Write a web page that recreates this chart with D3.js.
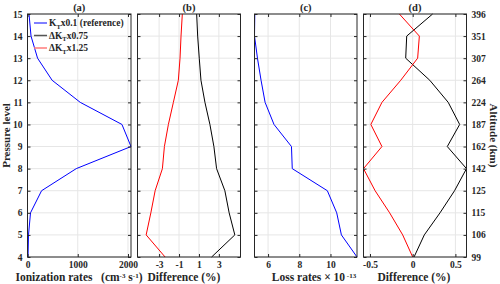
<!DOCTYPE html>
<html>
<head>
<meta charset="utf-8">
<style>
body { margin: 0; background: #fff; }
svg text { font-family: "Liberation Serif", serif; font-weight: bold; fill: #262626; }
.tick text { font-size: 9.5px; }
.tick line { stroke: #262626; }
.domain { display: none; }
.grid line { stroke: #e6e6e6; stroke-width: 1; }
.frame { fill: none; stroke: #262626; stroke-width: 1; }
.series { fill: none; stroke-width: 1; }
.xtitle { font-size: 11.5px; }
</style>
<script src="https://cdn.jsdelivr.net/npm/d3@7"></script>
</head>
<body>
<svg width="500" height="284"></svg>
<script>
// pressure levels and the matching altitude labels (km)
var levels = [4, 5, 6, 7, 8, 9, 10, 11, 12, 13, 14, 15];
var altitudes = [99, 106, 115, 125, 142, 162, 187, 224, 264, 307, 351, 396];

// (a) ionization rates, reference run
var ionRef = [10, 20, 60, 280, 970, 2060, 1880, 1050, 490, 200, 70, 30];
// (b) ionization difference (%)
var ionDiff075 = [2.27, 4.6, 4.03, 3.6, 2.77, 2.5, 2.1, 1.6, 1.2, 1.03, 0.87, 0.77];
var ionDiff125 = [-2.4, -4.3, -3.83, -3.4, -2.67, -2.47, -2.07, -1.57, -1.07, -0.9, -0.8, -0.67];
// (c) loss rates x 1e-13
var lossRef = [11.7, 10.7, 10.4, 9.8, 7.55, 7.5, 6.38, 5.81, 5.55, 5.32, 5.13, 5.15];
// (d) loss difference (%)
var lossDiff075 = [0.016, 0.136, 0.32, 0.49, 0.63, 0.405, 0.55, 0.416, 0.2, -0.082, -0.07, 0.233];
var lossDiff125 = [0, -0.117, -0.27, -0.44, -0.576, -0.36, -0.49, -0.36, -0.14, 0.058, 0.078, -0.156];

var svg = d3.select("svg");
var yTop = 14, yBottom = 257;

var y = d3.scaleLinear().domain([4, 15]).range([yBottom, yTop]);
var minusFmt = function(f) { return function(d) { return f(d).replace("\u2212", "-"); }; };

function panel(x0, x1, domain, ticks, fmt, title, series) {
  var x = d3.scaleLinear().domain(domain).range([x0, x1]);
  var g = svg.append("g");

  // grid
  var grid = g.append("g").attr("class", "grid");
  grid.selectAll(".gx").data(ticks).enter().append("line")
    .attr("x1", function(d) { return x(d); }).attr("x2", function(d) { return x(d); })
    .attr("y1", yTop).attr("y2", yBottom);
  grid.selectAll(".gy").data(levels).enter().append("line")
    .attr("x1", x0).attr("x2", x1)
    .attr("y1", function(d) { return y(d); }).attr("y2", function(d) { return y(d); });

  // series
  series.forEach(function(s) {
    var line = d3.line()
      .x(function(d) { return x(d); })
      .y(function(d, i) { return y(levels[i]); });
    g.append("path").attr("class", "series")
      .attr("d", line(s.values))
      .attr("stroke", s.color);
  });

  // ticks (inward, MATLAB style)
  g.append("g").attr("transform", "translate(0," + yBottom + ")")
    .call(d3.axisBottom(x).tickValues(ticks).tickSize(-3).tickPadding(4).tickFormat(fmt));
  g.append("g").attr("transform", "translate(0," + yTop + ")")
    .call(d3.axisTop(x).tickValues(ticks).tickSize(-3).tickFormat(""));
  g.append("g").attr("transform", "translate(" + x0 + ",0)")
    .call(d3.axisLeft(y).tickValues(levels).tickSize(-3).tickFormat(""));
  g.append("g").attr("transform", "translate(" + x1 + ",0)")
    .call(d3.axisRight(y).tickValues(levels).tickSize(-3).tickFormat(""));

  g.append("rect").attr("class", "frame")
    .attr("x", x0).attr("y", yTop).attr("width", x1 - x0).attr("height", yBottom - yTop);

  g.append("text").attr("x", (x0 + x1) / 2).attr("y", 11)
    .attr("text-anchor", "middle").style("font-size", "10.5px").text(title);
  return g;
}

panel(27.5, 131, [0, 2060], [0, 1000, 2000], d3.format("d"), "(a)",
  [{ values: ionRef, color: "#0000ff" }]);
panel(137.5, 240.5, [-5.17, 5.17], [-3, -1, 1, 3], minusFmt(d3.format("d")), "(b)",
  [{ values: ionDiff075, color: "#000000" }, { values: ionDiff125, color: "#ff0000" }]);
panel(254.5, 357, [5.13, 11.7], [6, 8, 10], d3.format("d"), "(c)",
  [{ values: lossRef, color: "#0000ff" }]);
panel(363.5, 466.5, [-0.576, 0.63], [-0.5, 0, 0.5],
  function(d) { return d === 0 ? "0" : d3.format(".1f")(d).replace("\u2212", "-"); }, "(d)",
  [{ values: lossDiff075, color: "#000000" }, { values: lossDiff125, color: "#ff0000" }]);

// left y labels (pressure level)
svg.append("g").attr("transform", "translate(27.5,0)")
  .call(d3.axisLeft(y).tickValues(levels).tickSize(0).tickPadding(5).tickFormat(d3.format("d")))
  .selectAll("text").style("font-size", "9.5px");

// right y labels (altitude)
svg.append("g").attr("transform", "translate(466.5,0)")
  .call(d3.axisRight(y).tickValues(levels).tickSize(0).tickPadding(5)
    .tickFormat(function(d) { return altitudes[levels.indexOf(d)]; }))
  .selectAll("text").style("font-size", "9.5px");

// axis titles
svg.append("text").attr("transform", "translate(10," + (yTop + yBottom) / 2 + ") rotate(-90)")
  .attr("text-anchor", "middle").style("font-size", "11px").text("Pressure level");
svg.append("text").attr("transform", "translate(490," + (yTop + yBottom) / 2 + ") rotate(90)")
  .attr("text-anchor", "middle").style("font-size", "11px").text("Altitude (km)");

var xl = svg.append("text").attr("class", "xtitle").attr("x", 79).attr("y", 281).attr("text-anchor", "middle");
xl.append("tspan").text("Ionization rates\u00a0\u00a0\u00a0(cm");
xl.append("tspan").attr("dy", -3.5).style("font-size", "7px").text("-3");
xl.append("tspan").attr("dy", 3.5).text(" s");
xl.append("tspan").attr("dy", -3.5).style("font-size", "7px").text("-1");
xl.append("tspan").attr("dy", 3.5).text(")");

svg.append("text").attr("class", "xtitle").attr("x", 184).attr("y", 281).attr("text-anchor", "middle").text("Difference (%)");
svg.append("text").attr("class", "xtitle").attr("x", 414).attr("y", 281).attr("text-anchor", "middle").text("Difference (%)");

var cl = svg.append("text").attr("class", "xtitle").attr("x", 314).attr("y", 281).attr("text-anchor", "middle");
cl.append("tspan").text("Loss rates \u00d7 10");
cl.append("tspan").attr("dy", -3.5).style("font-size", "7px").text(" -13");

// legend in panel (a)
var legend = [
  { name: "x0.1 (reference)", delta: false, color: "#0000ff" },
  { name: "x0.75", delta: true, color: "#555555" },
  { name: "x1.25", delta: true, color: "#ff7b7b" }
];
var lg = svg.append("g").attr("transform", "translate(34,23)");
var row = lg.selectAll("g").data(legend).enter().append("g")
  .attr("transform", function(d, i) { return "translate(0," + i * 12.5 + ")"; });
row.append("line").attr("x1", 0).attr("x2", 13).attr("y1", 0).attr("y2", 0)
  .attr("stroke", function(d) { return d.color; }).attr("stroke-width", function(d) { return d.delta ? 1.5 : 1; });
var lt = row.append("text").attr("x", 15).attr("y", 3).style("font-size", "9.5px");
lt.append("tspan").text(function(d) { return (d.delta ? "\u0394" : "") + "K"; });
lt.append("tspan").attr("dy", 2.5).style("font-size", "6.5px").text("T");
lt.append("tspan").attr("dy", -2.5).text(function(d) { return d.name; });
</script>
</body>
</html>
